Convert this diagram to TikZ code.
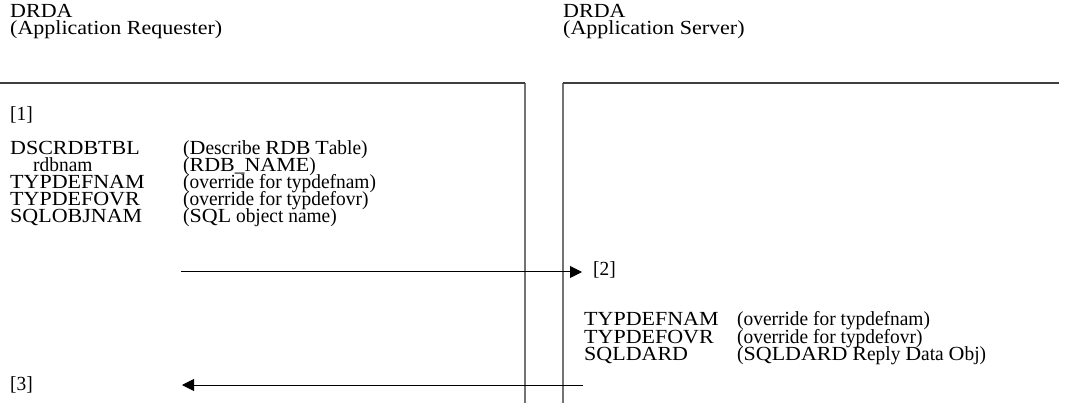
\documentclass[tikz,border=0pt]{standalone}
\usepackage{fontspec}
\setmainfont{Liberation Serif}
\newfontfamily\ucfont{Liberation Serif}[FakeStretch=1.1]
\newfontfamily\bodylcfont{Liberation Serif}[FakeStretch=0.97]
\newfontfamily\headlcfont{Liberation Serif}[FakeStretch=1.1]
\def\lcfont{\bodylcfont}
\usetikzlibrary{arrows.meta}
% capitals in this figure are set wider than small letters
\XeTeXinterchartokenstate=1
\newXeTeXintercharclass\UCclass
\count255=`A
\loop
  \XeTeXcharclass\count255=\UCclass
  \ifnum\count255<`Z \advance\count255 by 1
\repeat
\XeTeXinterchartoks 0 \UCclass = {\ucfont}
\XeTeXinterchartoks 4095 \UCclass = {\ucfont}
\XeTeXinterchartoks \UCclass 0 = {\lcfont}
\XeTeXinterchartoks \UCclass 4095 = {\lcfont}
\begin{document}
\begin{tikzpicture}[x=1pt,y=-1pt,
  basetxt/.style={anchor=base west, inner sep=0pt},
  headtxt/.style={basetxt, font=\fontsize{20}{17}\selectfont\def\lcfont{\headlcfont}\lcfont},
  bodytxt/.style={basetxt, font=\fontsize{20}{17}\selectfont\def\lcfont{\bodylcfont}\lcfont},
  frame/.style={draw=black!55, line width=1.3pt},
  topline/.style={draw=black!75, line width=1.3pt},
  msg/.style={draw=black, line width=1pt, -{Triangle[length=12pt,width=12pt]}}]
\useasboundingbox (0,0) rectangle (1068,403);
% headers
\node[headtxt] (h1a) at (10,18) {DRDA};
\node[headtxt] (h1b) at (10,35) {(Application Requester)};
\node[headtxt] (h2a) at (563,18) {DRDA};
\node[headtxt] (h2b) at (563,35) {(Application Server)};
% frames
\draw[frame] (525,83) -- (525,403);
\draw[topline] (0,83) -- (525,83);
\draw[frame] (563,83) -- (563,403);
\draw[topline] (563,83) -- (1059,83);
% left block
\node[bodytxt] (s1) at (10,121) {[1]};
\node[bodytxt] (l1) at (10,155) {DSCRDBTBL};
\node[bodytxt] (l2) at (33,172) {rdbnam};
\node[bodytxt] (l3) at (10,189) {TYPDEFNAM};
\node[bodytxt] (l4) at (10,206) {TYPDEFOVR};
\node[bodytxt] (l5) at (10,223) {SQLOBJNAM};
\node[bodytxt] (d1) at (183,155) {(Describe RDB Table)};
\node[bodytxt] (d2) at (183,172) {(RDB\_NAME)};
\node[bodytxt] (d3) at (183,189) {(override for typdefnam)};
\node[bodytxt] (d4) at (183,206) {(override for typdefovr)};
\node[bodytxt] (d5) at (183,223) {(SQL object name)};
% right block
\node[bodytxt] (s2) at (593,276) {[2]};
\node[bodytxt] (r1) at (584,326) {TYPDEFNAM};
\node[bodytxt] (r2) at (584,343) {TYPDEFOVR};
\node[bodytxt] (r3) at (584,360) {SQLDARD};
\node[bodytxt] (e1) at (737,326) {(override for typdefnam)};
\node[bodytxt] (e2) at (737,343) {(override for typdefovr)};
\node[bodytxt] (e3) at (737,360) {(SQLDARD Reply Data Obj)};
\node[bodytxt] (s3) at (10,390) {[3]};
% messages
\coordinate (m1s) at (181,272);
\coordinate (m1e) at (582,272);
\coordinate (m2s) at (583,385);
\coordinate (m2e) at (182,385);
\draw[msg] (m1s) -- (m1e);
\draw[msg] (m2s) -- (m2e);
\end{tikzpicture}
\end{document}
